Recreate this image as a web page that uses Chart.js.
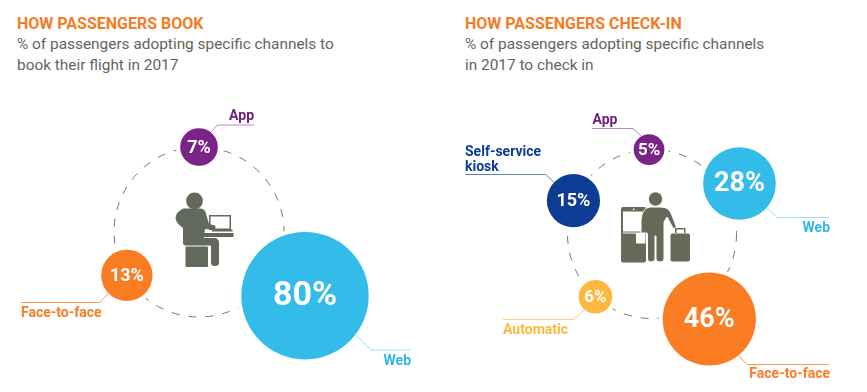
<!DOCTYPE html>
<html>
<head>
<meta charset="utf-8">
<title>How passengers book and check in</title>
<script src="https://cdn.jsdelivr.net/npm/chart.js@4/dist/chart.umd.min.js"></script>
<style>
  html, body { margin: 0; padding: 0; background: #fff; }
  #page { position: relative; width: 867px; height: 392px; overflow: hidden; font-family: Roboto, sans-serif; }
  canvas, svg { position: absolute; top: 0; }
  .head { position: absolute; top: 14px; white-space: nowrap; }
  .head h2 { margin: 0; font-size: 16px; line-height: 20px; font-weight: 700; color: #f47c27; }
  .head p { margin: 0; font-size: 15.4px; line-height: 21px; color: #5f6660; }
</style>
</head>
<body>
<div id="page">
  <div class="head" style="left:17px">
    <h2>HOW PASSENGERS BOOK</h2>
    <p>% of passengers adopting specific channels to<br>book their flight in 2017</p>
  </div>
  <div class="head" style="left:465px">
    <h2>HOW PASSENGERS CHECK-IN</h2>
    <p>% of passengers adopting specific channels<br>in 2017 to check in</p>
  </div>

  <canvas id="bookChart" width="434" height="392" style="left:0"></canvas>
  <canvas id="checkinChart" width="433" height="392" style="left:434px"></canvas>

  <!-- person at laptop -->
  <svg width="867" height="392" style="left:0">
    <g fill="#62685b">
      <circle cx="194.5" cy="201" r="8.4"/>
      <path d="M183 208.5 H200 Q204 208.5 205.5 212 L209 224 L215 225.5 Q216.5 228 214 229.5 L205 229 L204 238 H214 Q219 238 219 243 V263 Q219 266 215 266 Q211 266 211 263 V245.5 H186 Q183 245.5 183 243 V228 Q176 223 175.5 218 Q176 212 183 208.5 Z"/>
      <rect x="185.5" y="246.5" width="22.5" height="20.5" rx="1"/>
      <rect x="203.5" y="233" width="30" height="4"/>
      <path d="M209 215 H231 V230 H209 Z M210.5 216.5 V228.5 H229.5 V216.5 Z" fill-rule="evenodd"/>
      <rect x="212" y="229.5" width="20.5" height="2"/>
    </g>
    <!-- kiosk, traveller and suitcase -->
    <g fill="#666a58">
      <rect x="621" y="207" width="25" height="55.5" rx="2"/>
      <rect x="623" y="211.5" width="19.5" height="20" fill="#fff"/>
      <rect x="623" y="232.5" width="19.5" height="1" fill="#fff"/>
      <circle cx="633.7" cy="209.3" r="0.9" fill="#fff"/>
      <circle cx="655.5" cy="199" r="6.7"/>
      <path d="M641 220 Q642 208 650 207 H661 Q668 207 671 213 L676.5 227 L673.5 229 L667 217 L664 222 V259 Q664 262 660 262 Q656 262 656 259 V236 H655 V259 Q655 262 651 262 Q647.5 262 647.5 259 V235 L647 233 H641 Z" stroke="#fff" stroke-width="1"/>
      <rect x="636" y="233" width="9.5" height="10.5" rx="1" fill="#fff"/>
      <rect x="670.5" y="233.5" width="19.5" height="28" rx="2"/>
      <path d="M675 233 V228 H685.5 V233 H684 V229.5 H676.5 V233 Z"/>
    </g>
  </svg>
</div>

<script>
// Chart 1: booking channels
const bookChannels = ['App', 'Web', 'Face-to-face'];
const bookShare = [7, 80, 13];
const bookAngle = [0, 121, 239];      // degrees clockwise from 12 o'clock
const bookOrbit = [1, 1.455, 0.99];   // distance from centre, in ring radii

// Chart 2: check-in channels
const checkinChannels = ['App', 'Web', 'Face-to-face', 'Automatic', 'Self-service kiosk'];
const checkinShare = [5, 28, 46, 6, 15];
const checkinAngle = [-2, 60, 146, 222, 293];
const checkinOrbit = [1, 1.195, 1.213, 1, 1.01];

const PURPLE = '#7a2487', BLUE = '#33bbea', ORANGE = '#fb7d23', YELLOW = '#fdb840', NAVY = '#0d3c94';

// Pretty much hand placed: leader line points and label position, page pixels
const bookPanel = {
  left: 0, centre: [199, 232], ring: 85, sizeK: 7.12,
  colors: [PURPLE, BLUE, ORANGE],
  fontSize: [18, 34, 18],
  callouts: [
    { line: [[211, 132], [217.5, 125], [254, 125]], text: ['App'], x: 254, y: 120, align: 'right', color: '#6f2080', tint: '#b48cc0' },
    { line: [[356, 335], [371, 350], [411, 350]], text: ['Web'], x: 411, y: 365, align: 'right', color: '#33b5e8', tint: '#9cdcf4' },
    { line: [[108, 294], [99.5, 302.5], [21, 302.5]], text: ['Face-to-face'], x: 21, y: 317, align: 'left', color: '#fb7d23', tint: '#fb9a55' }
  ]
};
const checkinPanel = {
  left: 434, centre: [652, 234], ring: 84.5, sizeK: 6.87,
  colors: [PURPLE, BLUE, ORANGE, YELLOW, NAVY],
  fontSize: [17, 27, 27, 17, 18],
  callouts: [
    { line: [[641, 136], [633, 128.5], [592, 128.5]], text: ['App'], x: 592.5, y: 124, align: 'left', color: '#6f2080', tint: '#b48cc0' },
    { line: [[767, 208], [777, 217.5], [829, 217.5]], text: ['Web'], x: 830, y: 232, align: 'right', color: '#33b5e8', tint: '#9cdcf4' },
    { line: [[739, 356], [747, 364.5], [829, 364.5]], text: ['Face-to-face'], x: 830, y: 378, align: 'right', color: '#fb7d23', tint: '#fb9a55' },
    { line: [[584, 310], [574, 319.5], [503, 319.5]], text: ['Automatic'], x: 503, y: 334, align: 'left', color: '#fdb840', tint: '#fdcf80' },
    { line: [[554.5, 183], [546, 174.5], [465.5, 174.5]], text: ['Self-service', 'kiosk'], x: 465, y: 155.5, align: 'left', color: '#0d3c94', tint: '#5f80c0' }
  ]
};

function drawRing(chart, panel) {
  const ctx = chart.ctx;
  const x = chart.scales.x, y = chart.scales.y;
  ctx.save();
  ctx.strokeStyle = '#777';
  ctx.lineWidth = 1;
  ctx.setLineDash([8, 9]);
  ctx.beginPath();
  ctx.arc(x.getPixelForValue(0), y.getPixelForValue(0), panel.ring, 0, Math.PI * 2);
  ctx.stroke();
  ctx.setLineDash([]);

  // white halo, the ring stops short of every bubble
  ctx.fillStyle = '#fff';
  chart.getDatasetMeta(0).data.forEach(el => {
    ctx.beginPath();
    ctx.arc(el.x, el.y, el.options.radius + 4, 0, Math.PI * 2);
    ctx.fill();
  });
  ctx.restore();
}

function drawLabels(chart, panel, values) {
  const ctx = chart.ctx;
  ctx.save();
  ctx.textBaseline = 'alphabetic';

  panel.callouts.forEach(c => {
    ctx.strokeStyle = c.tint;
    ctx.lineWidth = 1;
    ctx.beginPath();
    c.line.forEach((p, i) => {
      if (i === 0) ctx.moveTo(p[0] - panel.left, p[1]);
      else ctx.lineTo(p[0] - panel.left, p[1]);
    });
    ctx.stroke();

    ctx.fillStyle = c.color;
    ctx.font = '700 14px Roboto';
    ctx.textAlign = c.align;
    c.text.forEach((t, i) => ctx.fillText(t, c.x - panel.left, c.y + i * 15));
  });

  // percentages in the bubbles
  ctx.fillStyle = '#fff';
  ctx.textAlign = 'center';
  ctx.textBaseline = 'middle';
  chart.getDatasetMeta(0).data.forEach((el, i) => {
    ctx.font = '700 ' + panel.fontSize[i] + 'px Roboto';
    ctx.fillText(values[i] + '%', el.x, el.y + 1);
  });
  ctx.restore();
}

function makeBubbles(id, panel, labels, values, angle, orbit) {
  const canvas = document.getElementById(id);
  const cx = panel.centre[0] - panel.left, cy = panel.centre[1];

  const points = values.map((v, i) => {
    const a = angle[i] * Math.PI / 180;
    return {
      x: orbit[i] * Math.sin(a),
      y: orbit[i] * Math.cos(a),
      r: panel.sizeK * Math.sqrt(v)
    };
  });

  return new Chart(canvas, {
    type: 'bubble',
    data: {
      labels: labels,
      datasets: [{
        data: points,
        backgroundColor: panel.colors,
        borderWidth: 0,
        clip: false
      }]
    },
    options: {
      responsive: false,
      animation: false,
      // bubbles would otherwise pad the chart area and shift off the ring
      layout: { padding: 0, autoPadding: false },
      plugins: { legend: { display: false }, tooltip: { enabled: false } },
      scales: {
        x: { display: false, min: -cx / panel.ring, max: (canvas.width - cx) / panel.ring },
        y: { display: false, min: -(canvas.height - cy) / panel.ring, max: cy / panel.ring }
      }
    },
    plugins: [{
      id: 'ringAndLabels',
      beforeDatasetsDraw(chart) { drawRing(chart, panel); },
      afterDatasetsDraw(chart) { drawLabels(chart, panel, values); }
    }]
  });
}

makeBubbles('bookChart', bookPanel, bookChannels, bookShare, bookAngle, bookOrbit);
makeBubbles('checkinChart', checkinPanel, checkinChannels, checkinShare, checkinAngle, checkinOrbit);
</script>
</body>
</html>
